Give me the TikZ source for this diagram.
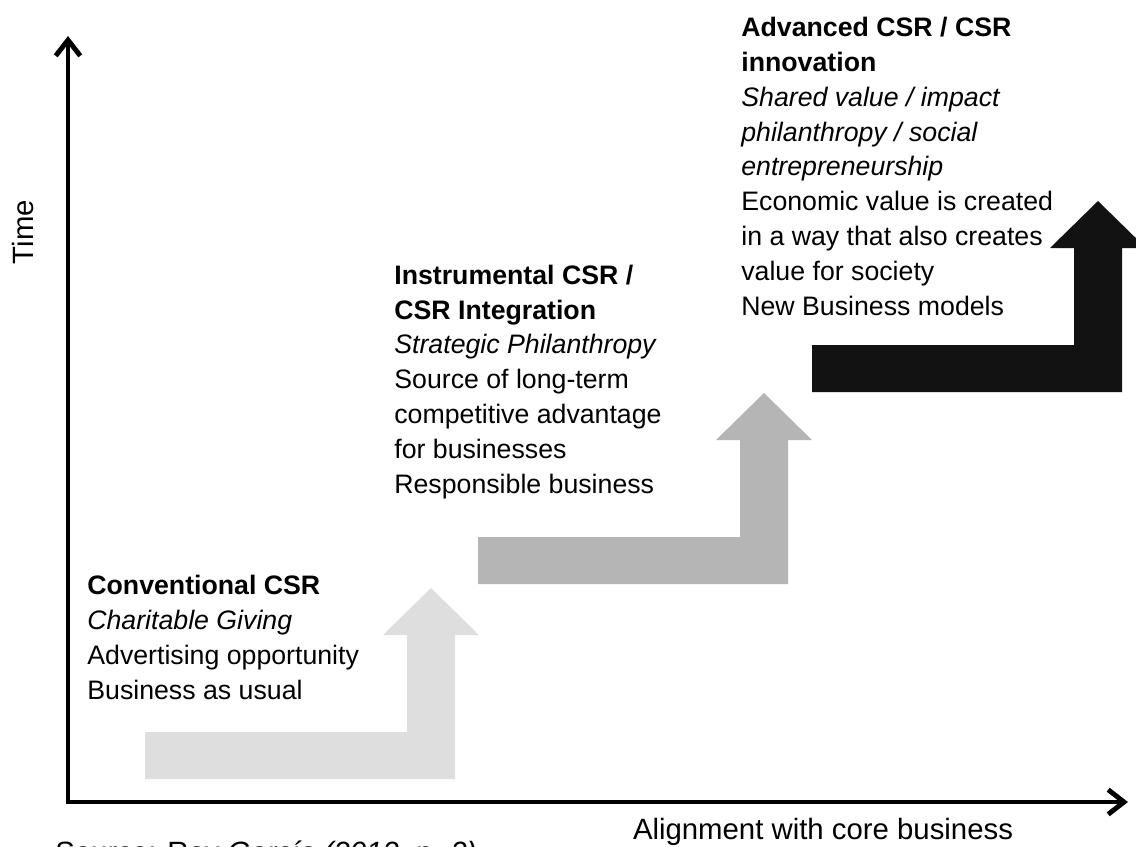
\documentclass[tikz,border=0pt]{standalone}
\usepackage{fontspec}
\setmainfont{Liberation Sans}
\usepackage{tikz}
\usetikzlibrary{calc}
\usetikzlibrary{arrows.meta}
\def\AxisWidth{2.8pt}
\def\StepFont{\fontsize{15.2}{19.8}\selectfont}
\def\LabelFont{\fontsize{16.7}{19.8}\selectfont}
% one step: colour, left end of the bar, bottom of the bar
\def\csrstep#1#2#3{%
	\fill[#1] (#2,#3) -- ++(0,-47) -- ++(262,0) -- ++(0,-97) -- ++(-24,0)
		-- ++(48,-47) -- ++(48,47) -- ++(-24,0) -- ++(0,144) -- cycle;}

\begin{document}
\begin{tikzpicture}[x=0.02cm,y=-0.02cm,
		axis/.style={line width=\AxisWidth,line cap=rect,-{Straight Barb[length=9pt,width=14pt]}},
		stage/.style={align=left,inner sep=0,font=\StepFont},
		lbl/.style={inner sep=0,font=\LabelFont}]
	\useasboundingbox (0,0) rectangle (1136,846);
	\clip (0,0) rectangle (1136,846);
	\coordinate (origin) at (68,802);
	\coordinate (ytip) at ($(origin)+(0,-766)$);
	\coordinate (xtip) at ($(origin)+(1060,0)$);
	% 
	\csrstep{black!13}{145}{779}
	\csrstep{black!29}{478}{584}
	\csrstep{black!93}{812}{392}
	% 
	\draw[axis] (origin) -- (ytip);
	\draw[axis] (origin) -- (xtip);
	\node[lbl,rotate=90,anchor=base] (time) at (33,232) {Time};
	\node[lbl,anchor=base] (align) at (823,839) {Alignment with core business};
	\node[lbl,anchor=base west] (source) at (55,862) {Source: Rey \textit{García (2012, p. 2)}};
	% HOWTO: base west of a block sits on the baseline of its last line
	\node[stage,anchor=base west] (conv) at (87,699) {\textbf{Conventional CSR}\\
		\textit{Charitable Giving}\\
		Advertising opportunity\\
		Business as usual};
	\node[stage,anchor=base west] (instr) at (394,493) {\textbf{Instrumental CSR /}\\
		\textbf{CSR Integration}\\
		\textit{Strategic Philanthropy}\\
		Source of long-term\\
		competitive advantage\\
		for businesses\\
		Responsible business};
	\node[stage,anchor=base west] (adv) at (741,315) {\textbf{Advanced CSR / CSR}\\
		\textbf{innovation}\\
		\textit{Shared value / impact}\\
		\textit{philanthropy / social}\\
		\textit{entrepreneurship}\\
		Economic value is created\\
		in a way that also creates\\
		value for society\\
		New Business models};
\end{tikzpicture}
\end{document}
